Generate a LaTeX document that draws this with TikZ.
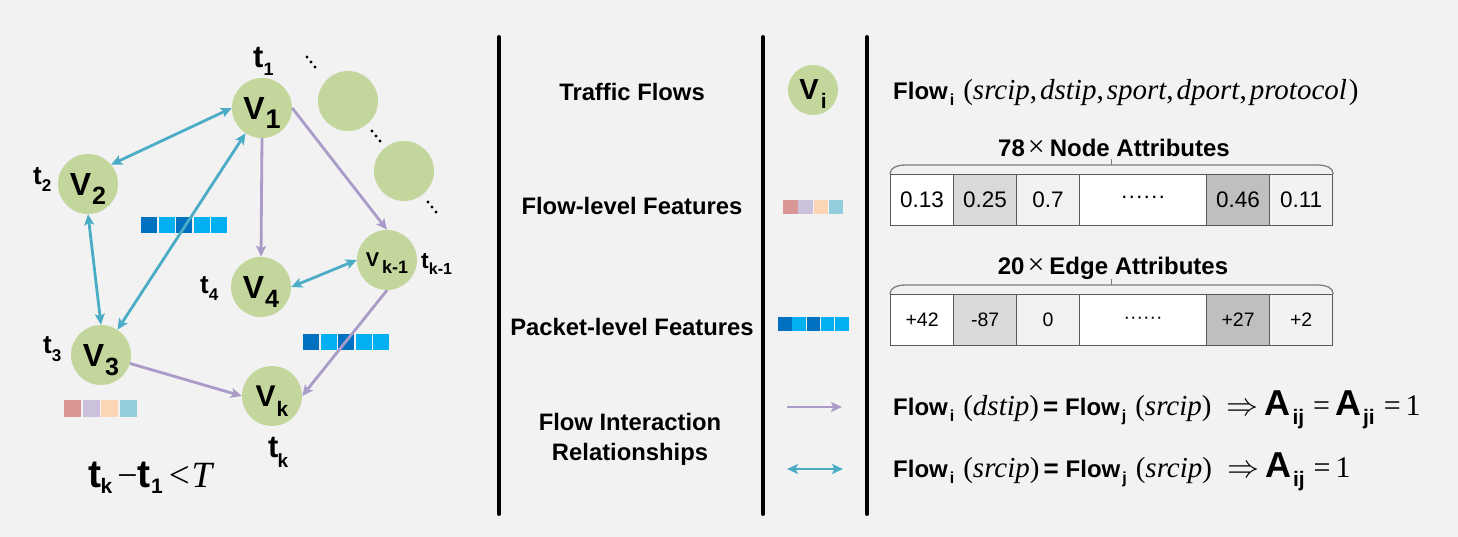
\documentclass[tikz,border=0pt]{standalone}
\usepackage{fontspec}
\usepackage{graphicx}
\setmainfont{Liberation Sans}
\newfontfamily\tnr{Liberation Serif}
\usetikzlibrary{arrows.meta,calc}
\definecolor{bg}{HTML}{F2F2F2}
\definecolor{nodegreen}{HTML}{C3D69B}
\definecolor{cy}{HTML}{4BACC6}
\definecolor{pu}{HTML}{AB9BC9}
\definecolor{pdark}{HTML}{0070C0}
\definecolor{plight}{HTML}{00B0F0}
\definecolor{fa}{HTML}{D99694}
\definecolor{fb}{HTML}{CCC1DA}
\definecolor{fc}{HTML}{FCD5B5}
\definecolor{fd}{HTML}{93CDDD}
\definecolor{cellA}{HTML}{D9D9D9}
\definecolor{cellB}{HTML}{BFBFBF}
\definecolor{cellC}{HTML}{F2F2F2}
\definecolor{cellbd}{HTML}{595959}
\definecolor{bracegray}{HTML}{7F7F7F}
\newcommand{\fs}[1]{\fontsize{#1}{#1}\selectfont}
\newcommand{\lsub}[3]{\smash{\raisebox{-#2}{\fs{#1}\bfseries #3}}}
\newcommand{\FL}[1]{{\fs{24}\bfseries Flow}\kern2pt\lsub{16}{6pt}{#1}\kern9pt}
\newcommand{\IP}[1]{{\tnr\fs{29}(\textit{#1})}}
\newcommand{\BEQ}{{\fs{26}\bfseries\hspace{4pt}=\hspace{7pt}}}
\newcommand{\RA}{\hspace{15pt}\scalebox{3.2}{$\Rightarrow$}\hspace{6pt}}
\newcommand{\BA}[1]{{\fs{36}\bfseries A}\kern2pt\lsub{21}{9pt}{#1}}
\newcommand{\Teq}{{\tnr\fs{30}\hspace{9pt}=\hspace{5pt}}}
\newcommand{\One}{{\tnr\fs{30}1}}
\tikzset{
  flow/.style={circle, fill=nodegreen, minimum size=60pt, inner sep=0pt},
  lab/.style={anchor=base west, inner sep=0pt, font=\bfseries},
  cyedge/.style={draw=cy, line width=2.8pt, {Stealth[length=11pt,width=10pt,inset=2.5pt]}-{Stealth[length=11pt,width=10pt,inset=2.5pt]}},
  puedge/.style={draw=pu, line width=2.8pt, -{Stealth[length=11pt,width=10pt,inset=2.5pt]}},
  sepline/.style={line width=4pt, line cap=round},
  cell/.style={draw=cellbd, line width=1.2pt, inner sep=0pt, anchor=north west, minimum width=63pt},
  heading/.style={font=\fontsize{23.8}{30}\selectfont\bfseries, align=center, inner sep=0pt},
  bracestyle/.style={draw=bracegray, line width=1.3pt},
  dotstyle/.style={fill=black},
}
\begin{document}
\begin{tikzpicture}[x=1pt,y=-1pt]
\useasboundingbox (0,0) rectangle (1458,537);
\fill[bg] (0,0) rectangle (1458,537);

% separators
\draw[sepline] (499,37) -- (499,514);
\draw[sepline] (763,37) -- (763,514);
\draw[sepline] (867,37) -- (867,514);

% feature bars in the graph
\foreach \i/\c in {0/pdark,1/plight,2/pdark,3/plight,4/plight}
  \fill[\c] (141+\i*17.5,217) rectangle ++(16.3,16.3);
\foreach \i/\c in {0/pdark,1/plight,2/pdark,3/plight,4/plight}
  \fill[\c] (303+\i*17.5,334) rectangle ++(16.3,16.3);
\foreach \i/\c in {0/fa,1/fb,2/fc,3/fd}
  \fill[\c] (64+\i*18.5,400) rectangle ++(17,17);

% graph nodes
\node[flow, font=\fs{32}\bfseries] (v1) at (262,108) {V\kern1pt\lsub{27}{9pt}{1}};
\node[flow, font=\fs{32}\bfseries] (v2) at (88,184) {V\kern1pt\lsub{25}{9pt}{2}};
\node[flow, font=\fs{32}\bfseries] (v3) at (101,355) {V\kern1pt\lsub{25}{9pt}{3}};
\node[flow, font=\fs{32}\bfseries] (v4) at (261,287) {V\kern1pt\lsub{25}{9pt}{4}};
\node[flow, font=\fs{20}\bfseries] (vk1) at (387,260) {V\kern3pt\lsub{18}{7pt}{k-1}};
\node[flow, font=\fs{30}\bfseries] (vk) at (272,396) {V\kern1pt\lsub{21}{10pt}{k}};
\node[flow] (e1) at (348,101) {};
\node[flow] (e2) at (404,171) {};

% dots
\foreach \x/\y in {307/57,311/62,315/67,372/131,376/136,380/141,428/202,432/207,436/212}
  \fill[dotstyle] (\x,\y) circle (1.7);

% time labels
\node[lab] (t1) at (253,68) {\fs{31}t\lsub{18}{8pt}{1}};
\node[lab] (t2) at (33,185) {\fs{26}t\lsub{17}{7pt}{2}};
\node[lab] (t3) at (43,353) {\fs{26}t\lsub{17}{8pt}{3}};
\node[lab] (t4) at (200,293) {\fs{26}t\lsub{17}{7pt}{4}};
\node[lab] (tk) at (268,457) {\fs{31}t\kern-1pt\lsub{19}{10pt}{k}};
\node[lab] (tk1) at (421,269) {\fs{23}t\lsub{16}{6pt}{k-1}};

% edges
\draw[cyedge] (v2.40) -- (v1.west);
\draw[cyedge] (v2.south) -- (v3.north);
\draw[cyedge] (v3) -- (v1);
\draw[cyedge] (v4.east) -- (vk1.west);
\draw[puedge] (v1.south) -- (v4.north);
\draw[puedge] (v1.east) -- (vk1.north);
\draw[puedge] (v3) -- (vk.west);
\draw[puedge] (vk1.south) -- (vk.east);

% condition
\node[lab] (cond) at (88,487) {\fs{39}t\kern-0.5pt\lsub{21}{6pt}{k}\kern5pt{\tnr\mdseries\fs{36}−}t\kern0.5pt\lsub{21}{6pt}{1}\kern6pt{\tnr\mdseries\fs{37}<\kern2pt\itshape T}};

% middle column
\node[heading] (h1) at (632,92) {Traffic Flows};
\node[heading] (h2) at (632,206) {Flow-level Features};
\node[heading] (h3) at (632,327) {Packet-level Features};
\node[heading] (h4) at (630,439) {Flow Interaction\\Relationships};

% legend column
\node[flow, minimum size=50pt, font=\fs{29}\bfseries] (vi) at (813,90) {V\kern2pt\lsub{21}{9pt}{i}};
\foreach \i/\c in {0/fa,1/fb,2/fc,3/fd}
  \fill[\c] (783+\i*15.3,200) rectangle ++(14.5,14.5);
\foreach \i/\c in {0/pdark,1/plight,2/pdark,3/plight,4/plight}
  \fill[\c] (778+\i*14.3,317) rectangle ++(13.5,13.5);
\coordinate (pa) at (787,407);
\coordinate (pb) at (842,407);
\coordinate (ca) at (787,469);
\coordinate (cb) at (843,469);
\draw[puedge] (pa) -- (pb);
\draw[cyedge] (ca) -- (cb);

% right column
\node[anchor=base west, inner sep=0pt] (f0) at (893,100)
  {\FL{i}{\tnr\fs{29}(\textit{srcip},\hspace{3pt}\textit{dstip},\hspace{3pt}\textit{sport},\hspace{3pt}\textit{dport},\hspace{3pt}\textit{protocol}\kern2pt)}};

\node[font=\fs{24}\bfseries, inner sep=0pt] (nt) at (1114,148) {78\hspace{3pt}{\tnr\mdseries\fs{30}×}\hspace{5pt}Node Attributes};
\begin{scope}[every node/.style={cell, minimum height=51pt, font=\fs{22.5}}]
\node[fill=white] (a1) at (890,174) {0.13};
\node[fill=cellA] (a2) at (953,174) {0.25};
\node[fill=cellC] (a3) at (1016,174) {0.7};
\node[fill=white, minimum width=127pt] (a4) at (1079,174) {······};
\node[fill=cellB] (a5) at (1206,174) {0.46};
\node[fill=cellC] (a6) at (1269,174) {0.11};
\end{scope}
\draw[bracestyle] (a1.north west) to[out=90,in=180] ([xshift=15pt,yshift=9pt]a1.north west)
  -- ([xshift=-15pt,yshift=9pt]a6.north east) to[out=0,in=90] (a6.north east);
\coordinate (nb) at ($(a1.north west)!0.5!(a6.north east) + (0,-9)$);
\draw[bracestyle] (nb) -- ++(0,-6);

\node[font=\fs{24}\bfseries, inner sep=0pt] (et) at (1113,268) {20\hspace{3pt}{\tnr\mdseries\fs{30}×}\hspace{5pt}Edge Attributes};
\begin{scope}[every node/.style={cell, minimum height=51pt, font=\fs{19.5}}]
\node[fill=white] (b1) at (890,294) {+42};
\node[fill=cellA] (b2) at (953,294) {-87};
\node[fill=cellC] (b3) at (1016,294) {0};
\node[fill=white, minimum width=127pt] (b4) at (1079,294) {······};
\node[fill=cellB] (b5) at (1206,294) {+27};
\node[fill=cellC] (b6) at (1269,294) {+2};
\end{scope}
\draw[bracestyle] (b1.north west) to[out=90,in=180] ([xshift=15pt,yshift=9pt]b1.north west)
  -- ([xshift=-15pt,yshift=9pt]b6.north east) to[out=0,in=90] (b6.north east);
\coordinate (eb) at ($(b1.north west)!0.5!(b6.north east) + (0,-9)$);
\draw[bracestyle] (eb) -- ++(0,-6);

\node[anchor=base west, inner sep=0pt] (r1) at (893,415)
  {\FL{i}\IP{dstip}\BEQ\FL{j}\IP{srcip}\RA\BA{ij}\Teq\BA{ji}\Teq\One};
\node[anchor=base west, inner sep=0pt] (r2) at (893,477)
  {\FL{i}\IP{srcip}\BEQ\FL{j}\IP{srcip}\RA\BA{ij}\Teq\One};
\end{tikzpicture}
\end{document}
